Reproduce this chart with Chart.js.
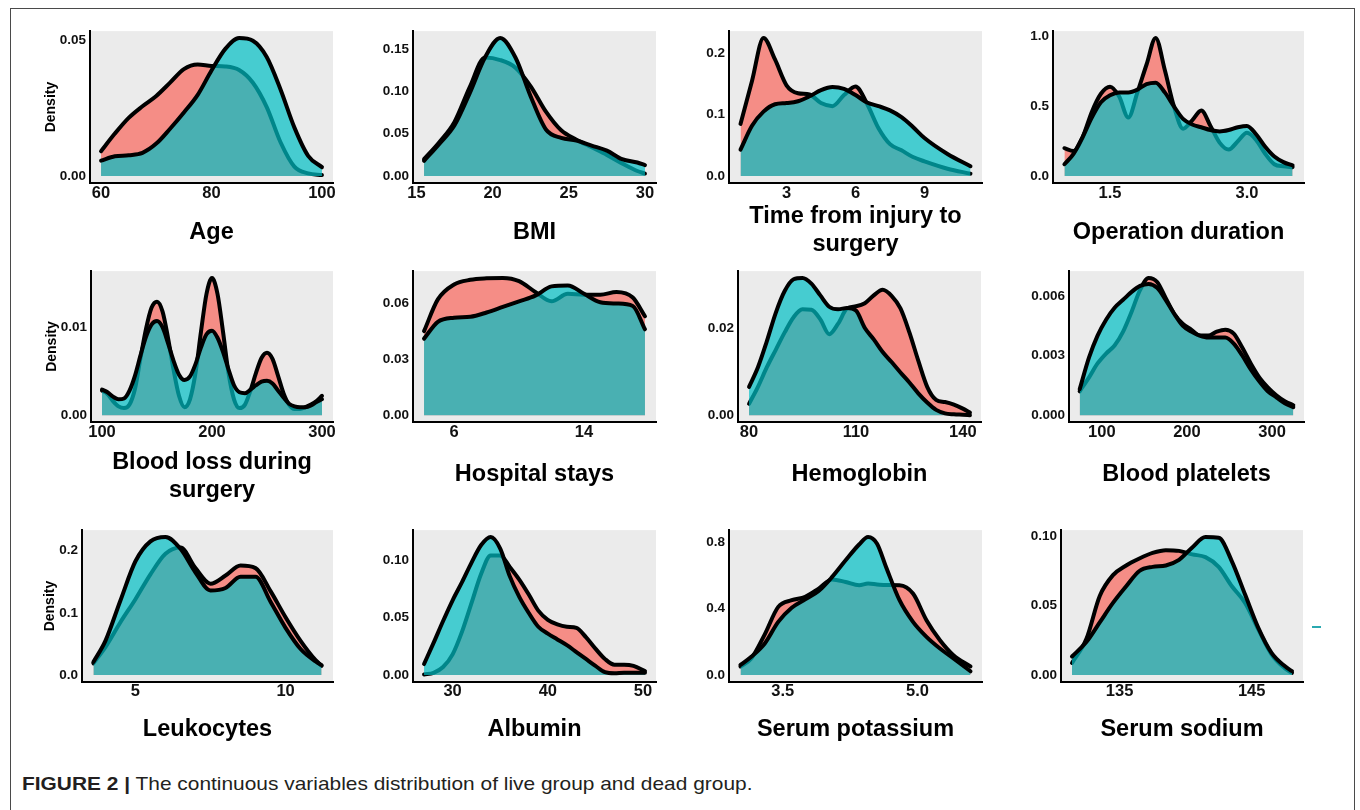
<!DOCTYPE html>
<html><head><meta charset="utf-8">
<script src="https://cdn.jsdelivr.net/npm/chart.js@4.4.1/dist/chart.umd.min.js"></script>
<style>
html,body{margin:0;padding:0;background:#fff;width:1360px;height:810px;overflow:hidden;font-family:"Liberation Sans",Arial,sans-serif;}
#frame{position:absolute;left:10px;top:8px;width:1345px;height:830px;border:1.5px solid #4a4a4a;box-sizing:border-box;}
canvas{position:absolute;}
#caption{position:absolute;left:22px;top:773px;font-size:19px;color:#231f20;white-space:nowrap;transform:scaleX(1.1);transform-origin:0 0;}
#dash{position:absolute;left:1312px;top:626px;width:9px;height:2px;background:#2aa9b0;}
</style></head><body>
<div id="frame"></div>
<div id="caption"><b>FIGURE 2 |</b> The continuous variables distribution of live group and dead group.</div>
<div id="dash"></div>
<script>
// ---------- data ----------
const ageTitle = ['Age'];
const ageX = [60,62.5,65,67.5,70,72.5,75,77.5,80,82.5,85,87.5,90,92.5,95,97.5,100];
const ageRed = [0.0092,0.0157,0.0215,0.0258,0.0296,0.0345,0.0395,0.0412,0.0407,0.0405,0.0392,0.0345,0.0255,0.0125,0.0035,0.0010,0.0004];
const ageTeal = [0.0057,0.0073,0.0077,0.0086,0.0120,0.0175,0.0235,0.0300,0.0390,0.0470,0.0510,0.0500,0.0440,0.0320,0.0180,0.0075,0.0033];
const ageYTicks = [0, 0.05], ageYLabels = ['0.00','0.05'];
const ageXTicks = [60, 80, 100], ageXLabels = ['60','80','100'];

const bmiTitle = ['BMI'];
const bmiX = [15.5,16.5,17.5,18.5,19.5,20.5,21.5,22.5,23.5,24.5,25.5,26.5,27.5,28.5,29.5,30];
const bmiRed = [0.020,0.040,0.064,0.105,0.140,0.137,0.128,0.106,0.076,0.054,0.043,0.034,0.025,0.015,0.006,0.003];
const bmiTeal = [0.018,0.038,0.060,0.098,0.140,0.163,0.140,0.094,0.055,0.045,0.042,0.036,0.030,0.020,0.016,0.013];
const bmiYTicks = [0,0.05,0.10,0.15], bmiYLabels = ['0.00','0.05','0.10','0.15'];
const bmiXTicks = [15,20,25,30], bmiXLabels = ['15','20','25','30'];

const timeTitle = ['Time from injury to','surgery'];
const timeX = [1,1.5,2,2.5,3,3.5,4,4.5,5,5.5,6,6.5,7,7.5,8,8.5,9,10,11];
const timeRed = [0.085,0.155,0.225,0.190,0.148,0.135,0.133,0.119,0.114,0.132,0.146,0.118,0.078,0.052,0.042,0.031,0.024,0.012,0.004];
const timeTeal = [0.043,0.082,0.105,0.117,0.119,0.122,0.130,0.140,0.145,0.142,0.132,0.120,0.114,0.107,0.096,0.080,0.062,0.036,0.016];
const timeYTicks = [0,0.1,0.2], timeYLabels = ['0.0','0.1','0.2'];
const timeXTicks = [3,6,9], timeXLabels = ['3','6','9'];

const opTitle = ['Operation duration'];
const opX = [1.0,1.1,1.2,1.3,1.4,1.5,1.6,1.7,1.8,1.9,2.0,2.1,2.2,2.3,2.4,2.5,2.6,2.7,2.8,2.9,3.0,3.1,3.2,3.3,3.4,3.5];
const opRed = [0.20,0.18,0.28,0.46,0.59,0.64,0.57,0.42,0.60,0.80,0.99,0.76,0.50,0.34,0.40,0.47,0.36,0.24,0.19,0.25,0.31,0.26,0.16,0.085,0.07,0.064];
const opTeal = [0.085,0.16,0.28,0.42,0.53,0.58,0.60,0.60,0.62,0.66,0.67,0.60,0.50,0.41,0.37,0.35,0.33,0.32,0.33,0.35,0.36,0.30,0.21,0.14,0.10,0.076];
const opYTicks = [0,0.5,1.0], opYLabels = ['0.0','0.5','1.0'];
const opXTicks = [1.5,3.0], opXLabels = ['1.5','3.0'];

const blTitle = ['Blood loss during','surgery'];
const blX = [100,105,110,115,120,125,130,135,140,145,150,155,160,165,170,175,180,185,190,195,200,205,210,215,220,225,230,235,240,245,250,255,260,265,270,275,280,285,290,295,300];
const blRed = [0.0028,0.0024,0.0016,0.0010,0.0008,0.0012,0.0030,0.0065,0.0098,0.0122,0.0129,0.0118,0.0088,0.0052,0.0022,0.0009,0.0018,0.0048,0.0095,0.0138,0.0156,0.0138,0.0095,0.0048,0.0018,0.0008,0.0012,0.0028,0.0048,0.0065,0.0071,0.0064,0.0045,0.0025,0.0012,0.0007,0.0007,0.0009,0.0012,0.0016,0.0022];
const blTeal = [0.0029,0.0026,0.0021,0.0018,0.0019,0.0028,0.0045,0.0068,0.0089,0.0103,0.0107,0.0100,0.0082,0.0062,0.0046,0.0040,0.0044,0.0058,0.0077,0.0092,0.0096,0.0088,0.0072,0.0052,0.0034,0.0026,0.0025,0.0029,0.0034,0.0038,0.0039,0.0036,0.0028,0.0020,0.0013,0.0010,0.0009,0.0009,0.0011,0.0015,0.0018];
const blYTicks = [0,0.01], blYLabels = ['0.00','0.01'];
const blXTicks = [100,200,300], blXLabels = ['100','200','300'];

const hsTitle = ['Hospital stays'];
const hsX = [4.15,5,6,7,8,9,10,11,12,13,14,15,16,17,17.75];
const hsRed = [0.045,0.062,0.070,0.0725,0.0733,0.0735,0.0718,0.066,0.061,0.065,0.0645,0.0645,0.066,0.063,0.053];
const hsTeal = [0.041,0.050,0.0522,0.0527,0.055,0.058,0.061,0.064,0.069,0.0695,0.065,0.0605,0.0598,0.0585,0.046];
const hsYTicks = [0,0.03,0.06], hsYLabels = ['0.00','0.03','0.06'];
const hsXTicks = [6,14], hsXLabels = ['6','14'];

const hbTitle = ['Hemoglobin'];
const hbX = [80,82.5,85,87.5,90,92.5,95,97.5,100,102.5,105,107.5,110,112.5,115,117.5,120,122.5,125,127.5,130,132.5,135,137.5,140,142];
const hbRed = [0.0026,0.0065,0.011,0.015,0.019,0.0225,0.0243,0.0242,0.0220,0.0186,0.0210,0.0245,0.0250,0.0257,0.0275,0.0288,0.0274,0.0245,0.0190,0.0125,0.0065,0.0035,0.0030,0.0024,0.0015,0.0006];
const hbTeal = [0.0065,0.011,0.017,0.0235,0.0285,0.0312,0.0315,0.0302,0.0275,0.0249,0.0243,0.0246,0.0240,0.0200,0.0174,0.0145,0.0122,0.0098,0.0075,0.0050,0.0029,0.0012,0.0004,0.0002,0.0001,0.0000];
const hbYTicks = [0,0.02], hbYLabels = ['0.00','0.02'];
const hbXTicks = [80,110,140], hbXLabels = ['80','110','140'];

const plTitle = ['Blood platelets'];
const plX = [74,85,95,105,115,125,135,145,155,165,175,185,195,205,215,225,235,245,255,265,275,285,295,305,315,325];
const plRed = [0.0012,0.0019,0.0026,0.0031,0.0035,0.0042,0.0052,0.0063,0.0069,0.0067,0.0059,0.0051,0.0046,0.0043,0.0040,0.0040,0.0042,0.0043,0.0041,0.0034,0.0026,0.0019,0.0014,0.0010,0.0007,0.0005];
const plTeal = [0.0013,0.0029,0.0040,0.0048,0.0054,0.0058,0.0062,0.0065,0.0066,0.0064,0.0058,0.0051,0.0045,0.0042,0.0040,0.0039,0.0039,0.0039,0.0036,0.0030,0.0023,0.0017,0.0012,0.0009,0.0006,0.0004];
const plYTicks = [0,0.003,0.006], plYLabels = ['0.000','0.003','0.006'];
const plXTicks = [100,200,300], plXLabels = ['100','200','300'];

const leTitle = ['Leukocytes'];
const leX = [3.6,4,4.5,5,5.5,6,6.5,7,7.5,8,8.5,9,9.5,10,10.5,11,11.2];
const leRed = [0.019,0.045,0.085,0.122,0.162,0.195,0.205,0.172,0.147,0.160,0.176,0.172,0.135,0.093,0.055,0.024,0.015];
const leTeal = [0.021,0.055,0.120,0.183,0.215,0.222,0.203,0.165,0.136,0.140,0.158,0.158,0.118,0.076,0.042,0.022,0.016];
const leYTicks = [0,0.1,0.2], leYLabels = ['0.0','0.1','0.2'];
const leXTicks = [5,10], leXLabels = ['5','10'];

const alTitle = ['Albumin'];
const alX = [27,28,29,30,31,32,33,34,35,36,37,38,39,40,41,42,43,44,45,46,47,48,49,50.2];
const alRed = [0.0006,0.002,0.007,0.018,0.038,0.063,0.088,0.104,0.104,0.094,0.083,0.070,0.056,0.048,0.044,0.042,0.041,0.033,0.023,0.014,0.009,0.009,0.008,0.0034];
const alTeal = [0.0096,0.028,0.047,0.065,0.081,0.098,0.113,0.120,0.110,0.086,0.068,0.054,0.042,0.036,0.031,0.026,0.020,0.014,0.008,0.0025,0.0015,0.002,0.002,0.002];
const alYTicks = [0,0.05,0.10], alYLabels = ['0.00','0.05','0.10'];
const alXTicks = [30,40,50], alXLabels = ['30','40','50'];

const kTitle = ['Serum potassium'];
const kX = [3.03,3.15,3.3,3.45,3.6,3.75,3.9,4.05,4.2,4.35,4.45,4.55,4.65,4.8,4.95,5.1,5.25,5.4,5.59];
const kRed = [0.052,0.10,0.245,0.41,0.45,0.47,0.52,0.575,0.56,0.54,0.55,0.545,0.541,0.54,0.49,0.33,0.21,0.12,0.052];
const kTeal = [0.061,0.11,0.19,0.32,0.405,0.455,0.505,0.59,0.69,0.785,0.83,0.79,0.65,0.45,0.32,0.23,0.16,0.10,0.023];
const kYTicks = [0,0.4,0.8], kYLabels = ['0.0','0.4','0.8'];
const kXTicks = [3.5,5.0], kXLabels = ['3.5','5.0'];

const naTitle = ['Serum sodium'];
const naX = [131.4,132.5,133.5,134.5,135.5,136.5,137.5,138.5,139.5,140.5,141.5,142.5,143.5,144.5,145.5,146.5,147.5,148.05];
const naRed = [0.0087,0.0264,0.057,0.072,0.079,0.084,0.088,0.090,0.0895,0.087,0.085,0.078,0.064,0.052,0.033,0.015,0.005,0.0016];
const naTeal = [0.0134,0.024,0.038,0.052,0.064,0.075,0.078,0.079,0.083,0.092,0.0995,0.099,0.082,0.058,0.034,0.016,0.0065,0.0028];
const naYTicks = [0,0.05,0.10], naYLabels = ['0.00','0.05','0.10'];
const naXTicks = [135,145], naXLabels = ['135','145'];

// ---------- panels ----------
const panels = [
  {title:ageTitle, x:ageX, red:ageRed, teal:ageTeal, yT:ageYTicks, yL:ageYLabels, xT:ageXTicks, xL:ageXLabels},
  {title:bmiTitle, x:bmiX, red:bmiRed, teal:bmiTeal, yT:bmiYTicks, yL:bmiYLabels, xT:bmiXTicks, xL:bmiXLabels},
  {title:timeTitle, x:timeX, red:timeRed, teal:timeTeal, yT:timeYTicks, yL:timeYLabels, xT:timeXTicks, xL:timeXLabels},
  {title:opTitle, x:opX, red:opRed, teal:opTeal, yT:opYTicks, yL:opYLabels, xT:opXTicks, xL:opXLabels},
  {title:blTitle, x:blX, red:blRed, teal:blTeal, yT:blYTicks, yL:blYLabels, xT:blXTicks, xL:blXLabels},
  {title:hsTitle, x:hsX, red:hsRed, teal:hsTeal, yT:hsYTicks, yL:hsYLabels, xT:hsXTicks, xL:hsXLabels},
  {title:hbTitle, x:hbX, red:hbRed, teal:hbTeal, yT:hbYTicks, yL:hbYLabels, xT:hbXTicks, xL:hbXLabels},
  {title:plTitle, x:plX, red:plRed, teal:plTeal, yT:plYTicks, yL:plYLabels, xT:plXTicks, xL:plXLabels},
  {title:leTitle, x:leX, red:leRed, teal:leTeal, yT:leYTicks, yL:leYLabels, xT:leXTicks, xL:leXLabels},
  {title:alTitle, x:alX, red:alRed, teal:alTeal, yT:alYTicks, yL:alYLabels, xT:alXTicks, xL:alXLabels},
  {title:kTitle, x:kX, red:kRed, teal:kTeal, yT:kYTicks, yL:kYLabels, xT:kXTicks, xL:kXLabels},
  {title:naTitle, x:naX, red:naRed, teal:naTeal, yT:naYTicks, yL:naYLabels, xT:naXTicks, xL:naXLabels}
];

// layout of each plot panel (pixel box of the grey plotting area, title line centre)
const boxes = [
  {L:90, R:333, T:25, B:183, ty:233, dens:51, pad:1},
  {L:413,R:656, T:25, B:183, ty:233, pad:1},
  {L:729,R:982, T:25, B:183, ty:217, pad:1},
  {L:1053,R:1304,T:25,B:183, ty:233, pad:1},
  {L:91, R:333, T:265,B:422, ty:463, dens:52, pad:1},
  {L:413,R:656, T:265,B:422, ty:475, pad:1},
  {L:738,R:981, T:265,B:422, ty:475, pad:1},
  {L:1069,R:1304,T:265,B:422,ty:475, pad:1},
  {L:82, R:333, T:524,B:682, ty:730, dens:50, pad:0},
  {L:413,R:656, T:524,B:682, ty:730, pad:0},
  {L:729,R:982, T:524,B:682, ty:730, pad:0},
  {L:1061,R:1303,T:524,B:682,ty:730, pad:0}
];

const FONT = '"Liberation Sans", Arial, Helvetica, sans-serif';
const TITLE_SIZE = 23.5, DENS_SIZE = 14;
const RED_FILL = 'rgba(248,118,109,0.8)';
const TEAL_FILL = 'rgba(0,191,196,0.7)';

const bgPlugin = {
  id: 'panelBg',
  beforeDraw(c) {
    const a = c.chartArea, ctx = c.ctx;
    ctx.save();
    ctx.fillStyle = '#EBEBEB';
    ctx.fillRect(a.left, a.top, a.right - a.left, a.bottom - a.top);
    ctx.restore();
  }
};

panels.forEach((p, i) => {
  const g = boxes[i];
  const LH = TITLE_SIZE * 1.2;
  const n = p.title.length;
  const xh = Math.round(g.ty + (n - 1) * LH + LH / 2 - g.B);
  const yw = g.dens ? Math.round(g.L - (g.dens - (DENS_SIZE * 1.2 / 2 + 4))) : 52;
  const padTop = 6, padRight = 12;
  const cw = yw + (g.R - g.L) + padRight;
  const ch = padTop + (g.B - g.T) + xh;
  const cv = document.createElement('canvas');
  cv.width = cw; cv.height = ch;
  cv.style.left = (g.L - yw) + 'px';
  cv.style.top = (g.T - padTop) + 'px';
  cv.style.width = cw + 'px';
  cv.style.height = ch + 'px';
  document.body.appendChild(cv);

  const ymax = Math.max(...p.red, ...p.teal);
  const x0 = p.x[0], x1 = p.x[p.x.length - 1], xr = x1 - x0;
  const line = {
    borderColor: '#000', borderWidth: 4, pointRadius: 0, fill: 'origin',
    cubicInterpolationMode: 'monotone', borderCapStyle: 'round', borderJoinStyle: 'round'
  };
  new Chart(cv, {
    type: 'line',
    data: {
      datasets: [
        Object.assign({label: 'dead group', order: 2, backgroundColor: RED_FILL,
          data: p.x.map((v, k) => ({x: v, y: p.red[k]}))}, line),
        Object.assign({label: 'live group', order: 1, backgroundColor: TEAL_FILL,
          data: p.x.map((v, k) => ({x: v, y: p.teal[k]}))}, line)
      ]
    },
    options: {
      responsive: false, animation: false, devicePixelRatio: 1,
      layout: {padding: {top: padTop, right: padRight, left: 0, bottom: 0}},
      plugins: {legend: {display: false}, tooltip: {enabled: false}},
      scales: {
        x: {
          type: 'linear', min: x0 - 0.05 * xr, max: x1 + 0.05 * xr,
          grid: {display: false, drawTicks: false},
          border: {display: true, color: '#000', width: 2},
          ticks: {autoSkip: false, maxRotation: 0, padding: g.pad, color: '#111',
            font: {family: FONT, size: 16.5, weight: 'bold'},
            callback: (v, k) => p.xL[k]},
          afterBuildTicks: s => { s.ticks = p.xT.map(v => ({value: v})); },
          afterFit: s => { s.height = xh; },
          title: {display: true, text: p.title, color: '#000', padding: {top: 0, bottom: 0},
            font: {family: FONT, size: TITLE_SIZE, weight: 'bold'}}
        },
        y: {
          min: -0.05 * ymax, max: 1.05 * ymax,
          grid: {display: false, drawTicks: false},
          border: {display: true, color: '#000', width: 2},
          ticks: {autoSkip: false, padding: 4, color: '#111',
            font: {family: FONT, size: 13.5, weight: 'bold'},
            callback: (v, k) => p.yL[k]},
          afterBuildTicks: s => { s.ticks = p.yT.map(v => ({value: v})); },
          afterFit: s => { s.width = yw; },
          title: {display: !!g.dens, text: 'Density', color: '#000', padding: {top: 4, bottom: 4},
            font: {family: FONT, size: DENS_SIZE, weight: 'bold'}}
        }
      }
    },
    plugins: [bgPlugin]
  });
});
</script>
</body></html>
